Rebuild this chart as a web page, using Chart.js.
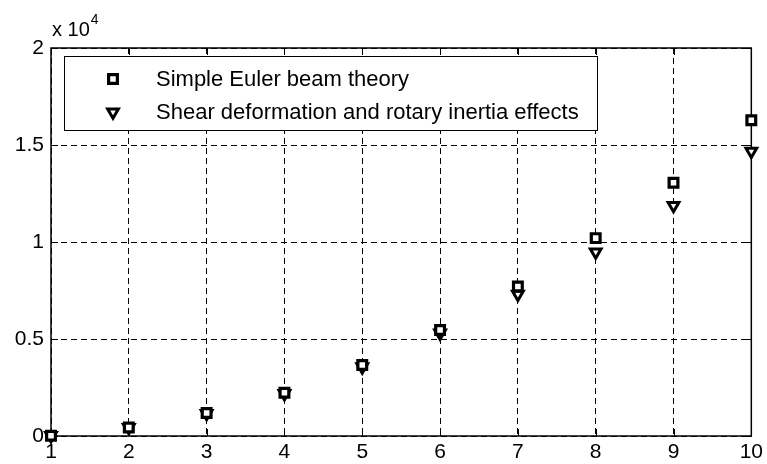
<!DOCTYPE html>
<html>
<head>
<meta charset="utf-8">
<script src="https://cdn.jsdelivr.net/npm/chart.js@4/dist/chart.umd.min.js"></script>
<style>
    html, body { margin: 0; padding: 0; background: #fff; }
</style>
</head>
<body>
<canvas id="BeamFrequencyChart" width="767" height="464"></canvas>
<script>
var modeNumbers = [1, 2, 3, 4, 5, 6, 7, 8, 9, 10];
var eulerValues = [16, 440, 1190, 2230, 3660, 5460, 7710, 10200, 13050, 16280];
var shearValues = [16, 430, 1160, 2180, 3560, 5300, 7300, 9480, 11880, 14670];
var yTickValues = [0, 5000, 10000, 15000, 20000];
var yTickLabels = ['0', '0.5', '1', '1.5', '2'];
var legendLabels = ['Simple Euler beam theory', 'Shear deformation and rotary inertia effects'];

var fontFamily = '"Liberation Sans", Arial, sans-serif';

function toPoints(values) {
    return values.map(function (v, i) {
        return { x: modeNumbers[i], y: v };
    });
}

var squareStyle = { pointStyle: 'rect', radius: 6.2, borderWidth: 3.2, rotation: 0 };
var triangleStyle = { pointStyle: 'triangle', radius: 6.2, borderWidth: 3, rotation: 180 };

// axes box, inward ticks, legend and exponent label like a matlab figure
var matlabAxes = {
    id: 'matlabAxes',
    beforeDatasetsDraw: function (chart) {
        var a = chart.chartArea, ctx = chart.ctx;
        var xs = chart.scales.x, ys = chart.scales.y;
        ctx.save();
        ctx.strokeStyle = '#000';
        ctx.setLineDash([]);
        ctx.lineWidth = 1;
        ctx.beginPath();
        modeNumbers.forEach(function (v) {
            var px = Math.round(xs.getPixelForValue(v)) + 0.5;
            ctx.moveTo(px, a.bottom); ctx.lineTo(px, a.bottom - 7);
            ctx.moveTo(px, a.top); ctx.lineTo(px, a.top + 7);
        });
        yTickValues.forEach(function (v) {
            var py = Math.round(ys.getPixelForValue(v)) + 0.5;
            ctx.moveTo(a.left, py); ctx.lineTo(a.left + 7, py);
            ctx.moveTo(a.right, py); ctx.lineTo(a.right - 7, py);
        });
        ctx.stroke();
        ctx.lineWidth = 1.5;
        ctx.strokeRect(a.left, a.top, a.right - a.left, a.bottom - a.top);
        ctx.restore();
    },
    afterDraw: function (chart) {
        var a = chart.chartArea, ctx = chart.ctx;
        ctx.save();
        // exponent
        ctx.fillStyle = '#000';
        ctx.textBaseline = 'alphabetic';
        ctx.textAlign = 'left';
        ctx.font = '20px ' + fontFamily;
        ctx.fillText('x 10', a.left + 1, 36);
        var w = ctx.measureText('x 10').width;
        ctx.font = '14px ' + fontFamily;
        ctx.fillText('4', a.left + 2 + w, 24);

        // legend
        var bx = a.left + 13, by = a.top + 8, bw = 533, bh = 74;
        ctx.fillStyle = '#fff';
        ctx.fillRect(bx, by, bw, bh);
        ctx.strokeStyle = '#000';
        ctx.lineWidth = 1;
        ctx.strokeRect(bx + 0.5, by + 0.5, bw, bh);

        var styles = [squareStyle, triangleStyle];
        var rows = [by + 23, by + 56];
        ctx.font = '22px ' + fontFamily;
        ctx.textBaseline = 'middle';
        for (var i = 0; i < legendLabels.length; i++) {
            ctx.fillStyle = '#fff';
            ctx.strokeStyle = '#000';
            ctx.lineWidth = styles[i].borderWidth;
            Chart.helpers.drawPoint(ctx, styles[i], bx + 49, rows[i]);
            ctx.fillStyle = '#000';
            ctx.fillText(legendLabels[i], bx + 92, rows[i] + 1);
        }
        ctx.restore();
    }
};

var ctx = document.getElementById('BeamFrequencyChart').getContext('2d');
window.BeamChart = new Chart(ctx, {
    type: 'scatter',
    data: {
        datasets: [{
            label: legendLabels[0],
            data: toPoints(eulerValues),
            pointStyle: 'rect',
            pointRadius: squareStyle.radius,
            pointBorderWidth: squareStyle.borderWidth,
            pointBackgroundColor: '#fff',
            pointBorderColor: '#000',
            showLine: false,
            clip: false
        }, {
            label: legendLabels[1],
            data: toPoints(shearValues),
            pointStyle: 'triangle',
            pointRotation: 180,
            pointRadius: triangleStyle.radius,
            pointBorderWidth: triangleStyle.borderWidth,
            pointBackgroundColor: '#fff',
            pointBorderColor: '#000',
            showLine: false,
            clip: false
        }]
    },
    options: {
        responsive: false,
        animation: false,
        layout: { padding: { left: 0, right: 13, top: 48, bottom: 0 } },
        plugins: {
            legend: { display: false },
            tooltip: { enabled: false }
        },
        scales: {
            x: {
                type: 'linear',
                min: 1,
                max: 10,
                afterFit: function (scale) { scale.height = 28; },
                grid: { color: '#000', lineWidth: 1, drawTicks: false },
                border: { display: false, dash: [6, 4] },
                ticks: {
                    stepSize: 1,
                    padding: 4,
                    color: '#000',
                    font: { family: fontFamily, size: 21 },
                    maxRotation: 0
                }
            },
            y: {
                type: 'linear',
                min: 0,
                max: 20000,
                afterFit: function (scale) { scale.width = 51; },
                grid: { color: '#000', lineWidth: 1, drawTicks: false },
                border: { display: false, dash: [6, 4] },
                ticks: {
                    stepSize: 5000,
                    padding: 7,
                    color: '#000',
                    font: { family: fontFamily, size: 21 },
                    callback: function (value) {
                        var i = yTickValues.indexOf(value);
                        return i >= 0 ? yTickLabels[i] : '';
                    }
                }
            }
        }
    },
    plugins: [matlabAxes]
});
</script>
</body>
</html>
